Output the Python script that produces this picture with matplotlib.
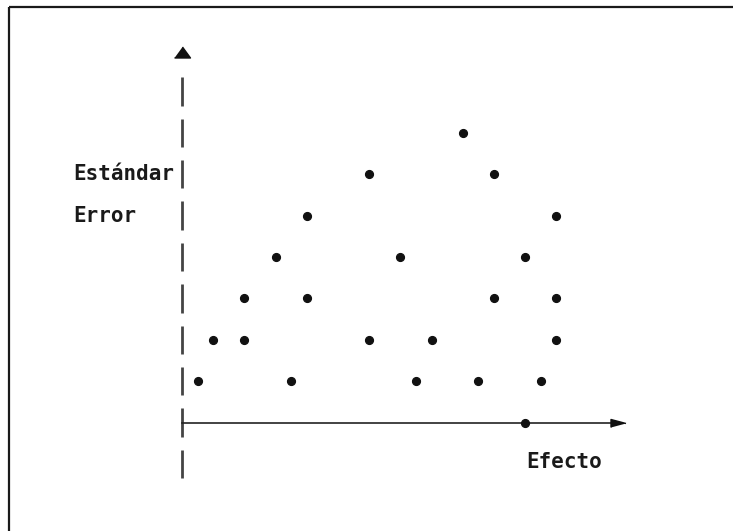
import matplotlib
matplotlib.use("Agg")
import matplotlib.pyplot as plt
import numpy as np

# Data: funnel-plot style points (effect, standard-error row)
effect = [0.5, 3.5, 7.5, 9.5, 11.5,
          1, 2, 6, 8, 12,
          2, 4, 10, 12,
          3, 7, 11,
          4, 12,
          6, 10,
          9,
          11]
std_error = [1, 1, 1, 1, 1,
             2, 2, 2, 2, 2,
             3, 3, 3, 3,
             4, 4, 4,
             5, 5,
             6, 6,
             7,
             0]
y_dash_centers = list(range(-1, 9))
x_label = "Efecto"
y_label_top = "Estándar"
y_label_bottom = "Error"

W, H = 733, 531
fig = plt.figure(figsize=(W / 100, H / 100), dpi=100)
ax = fig.add_axes([0, 0, 1, 1])
ux, uy = 31.2, 41.4
x0, y0 = 182, 422.6
ax.set_xlim(-x0 / ux, (W - x0) / ux)
ax.set_ylim(-(H - y0) / uy, y0 / uy)
ax.axis("off")

# frame (top and left only visible)
ax.plot([8.5 / W, 8.5 / W], [0, 1 - 6.5 / H], transform=ax.transAxes,
        color="#1a1a1a", lw=1.6, solid_capstyle="butt")
ax.plot([8.5 / W, 1], [1 - 6.5 / H, 1 - 6.5 / H], transform=ax.transAxes,
        color="#1a1a1a", lw=1.6, solid_capstyle="butt")

# dashed vertical axis
half = 0.345
ax.vlines([0] * len(y_dash_centers), [c - half for c in y_dash_centers],
          [c + half for c in y_dash_centers], color="#444444", lw=2.0)
up_tri = [(-8, -5.5), (8, -5.5), (0, 5.5)]
ax.plot([0], [8.94], marker=up_tri, ms=11.5, color="#111111", ls="none")

# horizontal axis with arrow
ax.plot([0, 13.9], [0, 0], color="#222222", lw=1.2)
right_tri = [(-7.5, -4), (-7.5, 4), (7.5, 0)]
ax.plot([13.98], [0], marker=right_tri, ms=10.8, color="#111111", ls="none")

# points
ax.plot(effect, std_error, "o", ms=5.6, color="#111111", ls="none")

# labels
fp = dict(family="DejaVu Sans Mono", weight="bold", fontsize=15, color="#1a1a1a")
ax.text(-0.256, 6.0, y_label_top, ha="right", va="center", **fp)
ax.text(-2.47, 5.0, y_label_bottom, ha="center", va="center", **fp)
ax.text(12.26, -0.95, x_label, ha="center", va="center", **fp)

fig.savefig("out.png", dpi=100, facecolor="white")
